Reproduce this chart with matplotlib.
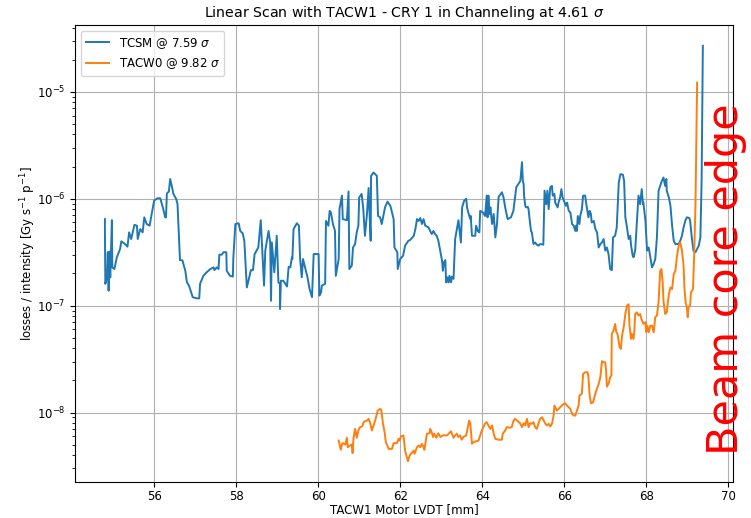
import numpy as np
import matplotlib.pyplot as plt

# TCSM losses
tcsm_x = [54.80, 54.80, 54.81, 54.85, 54.87, 54.89, 54.91, 54.93, 54.97, 54.98,
          55.03, 55.09, 55.17, 55.20, 55.29, 55.35, 55.39, 55.44, 55.52, 55.58,
          55.60, 55.66, 55.72, 55.76, 55.82, 55.89, 55.94, 56.00, 56.08, 56.15,
          56.23, 56.27, 56.29, 56.31, 56.36, 56.39, 56.43, 56.47, 56.54, 56.57,
          56.63, 56.69, 56.76, 56.80, 56.85, 56.94, 57.04, 57.10, 57.12, 57.20,
          57.28, 57.37, 57.45, 57.47, 57.53, 57.57, 57.59, 57.65, 57.69, 57.76,
          57.77, 57.85, 57.92, 57.93, 57.98, 58.06, 58.10, 58.16, 58.20, 58.26,
          58.30, 58.36, 58.41, 58.45, 58.54, 58.60, 58.68, 58.71, 58.79, 58.83,
          58.85, 58.87, 58.93, 58.99, 59.03, 59.07, 59.07, 59.09, 59.15, 59.20,
          59.24, 59.28, 59.32, 59.36, 59.37, 59.40, 59.48, 59.53, 59.56, 59.60,
          59.63, 59.68, 59.74, 59.79, 59.85, 59.89, 60.01, 60.03, 60.07, 60.09,
          60.17, 60.19, 60.25, 60.28, 60.31, 60.36, 60.41, 60.43, 60.50, 60.52,
          60.58, 60.60, 60.70, 60.74, 60.76, 60.82, 60.85, 60.90, 60.94, 60.98,
          61.00, 61.06, 61.10, 61.14, 61.19, 61.23, 61.25, 61.28, 61.29, 61.35,
          61.43, 61.46, 61.51, 61.55, 61.59, 61.63, 61.69, 61.76, 61.84, 61.86,
          61.93, 61.94, 62.00, 62.07, 62.12, 62.20, 62.24, 62.33, 62.37, 62.41,
          62.45, 62.49, 62.53, 62.57, 62.61, 62.69, 62.73, 62.77, 62.81, 62.85,
          62.89, 62.93, 63.02, 63.04, 63.07, 63.10, 63.12, 63.15, 63.18, 63.20,
          63.24, 63.26, 63.30, 63.34, 63.42, 63.48, 63.51, 63.56, 63.61, 63.63,
          63.67, 63.71, 63.72, 63.75, 63.83, 63.85, 63.89, 63.93, 63.95, 64.02,
          64.07, 64.11, 64.13, 64.15, 64.18, 64.20, 64.24, 64.28, 64.32, 64.36,
          64.40, 64.48, 64.52, 64.56, 64.62, 64.70, 64.76, 64.83, 64.88, 64.93,
          64.97, 64.99, 65.01, 65.02, 65.05, 65.07, 65.11, 65.13, 65.15, 65.19,
          65.21, 65.25, 65.29, 65.33, 65.37, 65.41, 65.49, 65.52, 65.56, 65.59,
          65.62, 65.66, 65.70, 65.72, 65.76, 65.78, 65.84, 65.86, 65.90, 65.93,
          65.96, 66.01, 66.04, 66.07, 66.11, 66.15, 66.19, 66.23, 66.27, 66.29,
          66.31, 66.33, 66.37, 66.39, 66.43, 66.46, 66.51, 66.55, 66.59, 66.62,
          66.65, 66.67, 66.72, 66.76, 66.80, 66.84, 66.88, 66.92, 66.96, 67.00,
          67.04, 67.08, 67.12, 67.16, 67.19, 67.24, 67.28, 67.33, 67.37, 67.43,
          67.46, 67.49, 67.53, 67.57, 67.61, 67.63, 67.67, 67.69, 67.73, 67.79,
          67.81, 67.85, 67.89, 67.92, 67.93, 67.98, 68.02, 68.06, 68.10, 68.14,
          68.18, 68.22, 68.26, 68.30, 68.34, 68.38, 68.42, 68.46, 68.49, 68.50,
          68.55, 68.59, 68.63, 68.67, 68.71, 68.79, 68.83, 68.87, 68.91, 68.95,
          68.99, 69.05, 69.07, 69.11, 69.15, 69.20, 69.24, 69.28, 69.32, 69.35,
          69.38]
tcsm_y = [6.45e-7, 5.0e-7, 1.6e-7, 1.84e-7, 3.16e-7, 1.38e-7, 3.2e-7, 1.84e-7, 6.3e-7, 2.28e-7,
          2.2e-7, 2.83e-7, 3.39e-7, 4.0e-7, 3.77e-7, 3.56e-7, 4.85e-7, 4.2e-7, 5.7e-7, 5.6e-7,
          4.2e-7, 5.2e-7, 4.85e-7, 6.7e-7, 5.8e-7, 5.6e-7, 7.2e-7, 9.6e-7, 1.01e-6, 1.01e-6,
          7.8e-7, 6.7e-7, 6.7e-7, 1.12e-6, 1.17e-6, 1.53e-6, 1.32e-6, 1.11e-6, 9.9e-7, 8.9e-7,
          2.67e-7, 2.65e-7, 2.12e-7, 1.65e-7, 1.54e-7, 1.2e-7, 1.17e-7, 1.17e-7, 1.6e-7, 1.9e-7,
          2.05e-7, 2.2e-7, 2.28e-7, 2.15e-7, 2.28e-7, 2.2e-7, 3.0e-7, 3.0e-7, 3.16e-7, 3.16e-7,
          2.12e-7, 1.9e-7, 1.87e-7, 2.73e-7, 5.8e-7, 5.9e-7, 5.0e-7, 4.74e-7, 4.0e-7, 1.48e-7,
          1.71e-7, 2.15e-7, 2.15e-7, 3.04e-7, 3.5e-7, 6.3e-7, 1.54e-7, 3.27e-7, 5.0e-7, 3.9e-7,
          1.11e-7, 3.9e-7, 2.05e-7, 4.5e-7, 1.65e-7, 1.6e-7, 9.3e-8, 1.71e-7, 1.71e-7, 1.6e-7,
          1.51e-7, 2.31e-7, 2.28e-7, 2.83e-7, 2.73e-7, 5.2e-7, 5.9e-7, 5.6e-7, 2.73e-7, 1.84e-7,
          2.73e-7, 2.28e-7, 1.84e-7, 1.43e-7, 1.2e-7, 3.04e-7, 3.04e-7, 1.24e-7, 1.33e-7, 1.54e-7,
          1.6e-7, 6.2e-7, 5.6e-7, 7.7e-7, 7.45e-7, 5.8e-7, 5.0e-7, 1.9e-7, 2.73e-7, 8.0e-7,
          1.07e-6, 6.45e-7, 6.3e-7, 1.17e-6, 2.2e-7, 2.37e-7, 3.5e-7, 3.77e-7, 4.85e-7, 5.6e-7,
          1.03e-6, 1.11e-6, 8.0e-7, 4.5e-7, 7.2e-7, 1.26e-6, 7.7e-7, 4.05e-7, 1.64e-6, 1.76e-6,
          1.64e-6, 6.9e-7, 6.7e-7, 5.8e-7, 6.9e-7, 8.3e-7, 9.4e-7, 8.6e-7, 6.45e-7, 3.5e-7,
          3.16e-7, 2.2e-7, 2.73e-7, 2.93e-7, 3.64e-7, 4.05e-7, 4.1e-7, 4.5e-7, 5.2e-7, 6.45e-7,
          6.2e-7, 6.6e-7, 5.8e-7, 6.45e-7, 5.6e-7, 5.4e-7, 5.0e-7, 4.68e-7, 5.0e-7, 4.68e-7,
          4.5e-7, 4.05e-7, 2.64e-7, 2.12e-7, 2.55e-7, 2.67e-7, 1.65e-7, 1.84e-7, 1.65e-7, 1.9e-7,
          1.65e-7, 1.87e-7, 1.78e-7, 4.2e-7, 6.3e-7, 3.9e-7, 8.3e-7, 9.6e-7, 1.0e-6, 8.3e-7,
          7.2e-7, 6.45e-7, 6.9e-7, 4.5e-7, 4.5e-7, 5.6e-7, 5.0e-7, 4.85e-7, 7.7e-7, 7.45e-7,
          6.9e-7, 1.07e-6, 6.7e-7, 1.07e-6, 7.2e-7, 8.3e-7, 5.8e-7, 7.2e-7, 4.35e-7, 5.8e-7,
          1.04e-6, 1.15e-6, 1.03e-6, 8.3e-7, 6.45e-7, 6.7e-7, 7.7e-7, 1.28e-6, 1.37e-6, 1.47e-6,
          2.2e-6, 1.47e-6, 1.37e-6, 1.07e-6, 8.6e-7, 8.3e-7, 8.4e-7, 8.0e-7, 6.7e-7, 5.0e-7,
          4.85e-7, 3.77e-7, 3.9e-7, 3.72e-7, 3.64e-7, 3.77e-7, 3.72e-7, 1.19e-6, 8.9e-7, 1.19e-6,
          8.0e-7, 1.28e-6, 1.32e-6, 1.07e-6, 1.11e-6, 9.2e-7, 8.3e-7, 9.2e-7, 1.03e-6, 1.23e-6,
          1.03e-6, 9.2e-7, 8.6e-7, 9.2e-7, 7.7e-7, 7.45e-7, 5.8e-7, 5.6e-7, 5.0e-7, 5.6e-7,
          5.0e-7, 6.9e-7, 5.8e-7, 6.9e-7, 8.0e-7, 1.07e-6, 1.07e-6, 8.3e-7, 6.7e-7, 7.7e-7,
          7.2e-7, 6.0e-7, 6.2e-7, 5.2e-7, 4.85e-7, 3.5e-7, 3.77e-7, 3.9e-7, 4.2e-7, 3.27e-7,
          3.5e-7, 3.04e-7, 2.2e-7, 2.15e-7, 4.35e-7, 4.5e-7, 5.4e-7, 1.42e-6, 1.7e-6, 1.68e-6,
          1.47e-6, 6.7e-7, 5.4e-7, 4.2e-7, 4.5e-7, 3.64e-7, 2.93e-7, 2.83e-7, 3.27e-7, 8.0e-7,
          1.07e-6, 8.9e-7, 1.23e-6, 8.9e-7, 9.2e-7, 6.2e-7, 3.27e-7, 3.5e-7, 2.83e-7, 2.28e-7,
          2.45e-7, 2.73e-7, 4.35e-7, 1.19e-6, 1.32e-6, 1.47e-6, 1.58e-6, 1.32e-6, 1.53e-6, 1.19e-6,
          1.03e-6, 8.6e-7, 5.6e-7, 4.05e-7, 3.77e-7, 3.77e-7, 4.05e-7, 4.5e-7, 5.4e-7, 6.2e-7,
          6.7e-7, 6.6e-7, 6.2e-7, 4.35e-7, 3.27e-7, 3.16e-7, 3.4e-7, 3.64e-7, 4.35e-7, 1.5e-6,
          2.7e-5]

# TACW0 losses
tacw0_x = [60.50, 60.55, 60.59, 60.66, 60.70, 60.72, 60.78, 60.82, 60.84, 60.86,
           60.90, 60.94, 60.98, 61.02, 61.07, 61.11, 61.15, 61.19, 61.23, 61.27,
           61.31, 61.35, 61.39, 61.45, 61.51, 61.54, 61.58, 61.62, 61.65, 61.72,
           61.80, 61.84, 61.92, 61.96, 61.98, 62.02, 62.08, 62.12, 62.16, 62.19,
           62.23, 62.28, 62.33, 62.35, 62.41, 62.45, 62.49, 62.53, 62.57, 62.59,
           62.65, 62.72, 62.73, 62.77, 62.80, 62.83, 62.88, 62.93, 62.98, 63.06,
           63.14, 63.20, 63.24, 63.30, 63.34, 63.38, 63.42, 63.46, 63.50, 63.54,
           63.61, 63.65, 63.68, 63.71, 63.75, 63.79, 63.85, 63.91, 63.95, 63.99,
           64.03, 64.07, 64.11, 64.15, 64.20, 64.24, 64.28, 64.32, 64.40, 64.48,
           64.50, 64.56, 64.60, 64.67, 64.72, 64.76, 64.80, 64.85, 64.93, 64.97,
           65.01, 65.05, 65.09, 65.13, 65.17, 65.21, 65.25, 65.29, 65.33, 65.37,
           65.41, 65.46, 65.50, 65.54, 65.58, 65.62, 65.66, 65.70, 65.74, 65.76,
           65.78, 65.82, 65.86, 65.90, 65.94, 65.98, 66.02, 66.07, 66.11, 66.15,
           66.19, 66.23, 66.27, 66.31, 66.35, 66.37, 66.43, 66.46, 66.51, 66.57,
           66.59, 66.62, 66.65, 66.70, 66.76, 66.78, 66.84, 66.88, 66.92, 66.96,
           67.00, 67.02, 67.04, 67.08, 67.12, 67.15, 67.16, 67.20, 67.24, 67.27,
           67.30, 67.35, 67.38, 67.41, 67.45, 67.49, 67.53, 67.57, 67.59, 67.63,
           67.65, 67.69, 67.71, 67.73, 67.77, 67.81, 67.85, 67.89, 67.93, 67.98,
           68.00, 68.03, 68.06, 68.10, 68.14, 68.18, 68.22, 68.26, 68.30, 68.34,
           68.37, 68.40, 68.42, 68.46, 68.50, 68.55, 68.59, 68.63, 68.67, 68.71,
           68.75, 68.79, 68.83, 68.87, 68.91, 68.93, 68.96, 68.99, 69.01, 69.03,
           69.07, 69.09, 69.14, 69.17, 69.20, 69.24]
tacw0_y = [5.47e-9, 4.48e-9, 5.17e-9, 5.02e-9, 5.8e-9, 4.74e-9, 4.92e-9, 5.02e-9, 4.17e-9, 5.67e-9,
           7.03e-9, 5.8e-9, 6.79e-9, 7.3e-9, 7.4e-9, 8.13e-9, 8.3e-9, 8.4e-9, 8.73e-9, 7.95e-9,
           6.79e-9, 7.57e-9, 8.4e-9, 1.04e-8, 1.08e-8, 1.06e-8, 7.84e-9, 6.55e-9, 5.28e-9, 4.57e-9,
           4.57e-9, 5.17e-9, 5.17e-9, 5.67e-9, 5.47e-9, 5.97e-9, 6.1e-9, 4.41e-9, 3.82e-9, 3.5e-9,
           3.96e-9, 4.17e-9, 4.41e-9, 4.1e-9, 4.74e-9, 4.92e-9, 4.74e-9, 5.1e-9, 4.74e-9, 4.48e-9,
           6.32e-9, 6.4e-9, 7.03e-9, 6.55e-9, 5.9e-9, 6.32e-9, 5.8e-9, 6.4e-9, 5.9e-9, 6.13e-9,
           6.1e-9, 6.45e-9, 6.67e-9, 5.8e-9, 6.1e-9, 6.32e-9, 5.9e-9, 6.1e-9, 5.56e-9, 5.9e-9,
           6.1e-9, 7.3e-9, 8.4e-9, 7.9e-9, 5.1e-9, 5.28e-9, 5.38e-9, 5.47e-9, 6.1e-9, 6.79e-9,
           7.3e-9, 7.9e-9, 8.13e-9, 7.57e-9, 7.03e-9, 7.57e-9, 6.32e-9, 5.67e-9, 5.56e-9, 5.56e-9,
           6.32e-9, 6.79e-9, 7.3e-9, 7.2e-9, 7.3e-9, 8.3e-9, 8.73e-9, 8.4e-9, 7.9e-9, 7.3e-9,
           7.95e-9, 7.57e-9, 8.73e-9, 7.3e-9, 7.95e-9, 7.84e-9, 8.13e-9, 7.3e-9, 7.03e-9, 7.84e-9,
           8.73e-9, 9.04e-9, 8.4e-9, 7.84e-9, 7.57e-9, 7.84e-9, 7.4e-9, 7.84e-9, 9.37e-9, 1.16e-8,
           1.12e-8, 1.04e-8, 1.08e-8, 1.12e-8, 1.16e-8, 1.2e-8, 1.22e-8, 1.16e-8, 1.12e-8, 1.08e-8,
           9.7e-9, 9.37e-9, 9.37e-9, 1.04e-8, 1.16e-8, 1.44e-8, 1.5e-8, 2.3e-8, 2.38e-8, 2.38e-8,
           2.14e-8, 1.44e-8, 1.22e-8, 1.24e-8, 1.5e-8, 1.6e-8, 1.85e-8, 2.14e-8, 3.02e-8, 2.95e-8,
           2.95e-8, 2.47e-8, 1.75e-8, 1.85e-8, 2.14e-8, 2.22e-8, 5.43e-8, 5.83e-8, 6.74e-8, 5.63e-8,
           5.43e-8, 4.08e-8, 3.94e-8, 5.25e-8, 6.28e-8, 8.36e-8, 1.0e-7, 1.03e-7, 6.5e-8, 4.88e-8,
           5.43e-8, 4.88e-8, 5.83e-8, 8.36e-8, 8.66e-8, 8.06e-8, 8.36e-8, 7.34e-8, 6.74e-8, 7.0e-8,
           5.63e-8, 6.5e-8, 5.63e-8, 6.5e-8, 6.5e-8, 5.63e-8, 7.8e-8, 8.06e-8, 1.08e-7, 2.12e-7,
           2.2e-7, 1.65e-7, 1.11e-7, 8.36e-8, 8.66e-8, 1.28e-7, 1.48e-7, 1.43e-7, 1.98e-7, 2.12e-7,
           2.93e-7, 3.64e-7, 3.9e-7, 3.27e-7, 2.37e-7, 1.48e-7, 1.07e-7, 9.7e-8, 7.78e-8, 9.7e-8,
           1.0e-7, 1.33e-7, 1.43e-7, 3.16e-7, 8.9e-7, 1.22e-5]

fig, ax = plt.subplots(figsize=(7.51, 5.18), dpi=100)
fig.subplots_adjust(left=0.0999, right=0.9757, bottom=0.0695, top=0.9517)

ax.semilogy(tcsm_x, tcsm_y, color='C0', lw=1.4, label=r'TCSM @ 7.59 $\sigma$')
ax.semilogy(tacw0_x, tacw0_y, color='C1', lw=1.4, label=r'TACW0 @ 9.82 $\sigma$')
ax.grid(True)
ax.tick_params(labelsize=8.5)
ax.tick_params(axis='x', pad=2)

ax.set_title(r'Linear Scan with TACW1 - CRY 1 in Channeling at 4.61 $\sigma$', fontsize=10.2)
ax.set_xlabel('TACW1 Motor LVDT [mm]', fontsize=8.5, labelpad=0)
ax.set_ylabel(r'losses / intensity [Gy s$^{-1}$ p$^{-1}$]', fontsize=8.5, labelpad=-1)
ax.legend(loc='upper left', fontsize=8.5)

ax.text(69.94, 1.75e-7, 'Beam core edge', rotation=90, color='red',
        fontsize=31, ha='center', va='center')

fig.savefig('out.png', dpi=100)
